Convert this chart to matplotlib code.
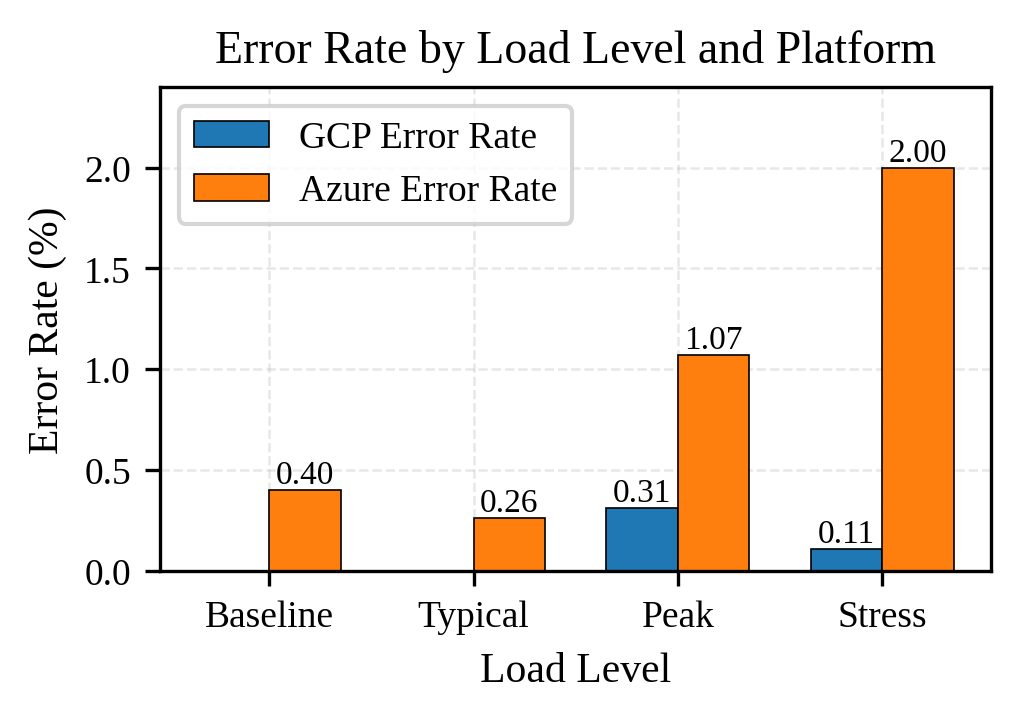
import matplotlib
matplotlib.use("Agg")
import matplotlib.pyplot as plt
import numpy as np

plt.rcParams['font.family'] = ['Liberation Serif', 'DejaVu Serif']

categories = ["Baseline", "Typical", "Peak", "Stress"]
gcp = [0.0, 0.0, 0.31, 0.11]
azure = [0.40, 0.26, 1.07, 2.00]

fig, ax = plt.subplots(figsize=(3.4, 2.403), dpi=300)
x = np.arange(len(categories))
w = 0.35
b1 = ax.bar(x - w/2, gcp, w, label="GCP Error Rate", color="#1f77b4", edgecolor="black", linewidth=0.4)
b2 = ax.bar(x + w/2, azure, w, label="Azure Error Rate", color="#ff7f0e", edgecolor="black", linewidth=0.4)

for bars, vals in ((b1, gcp), (b2, azure)):
    for rect, v in zip(bars, vals):
        if v > 0:
            ax.text(rect.get_x() + rect.get_width()/2, v, f"{v:.2f}", ha="center", va="bottom", fontsize=8)

ax.set_xticks(x)
ax.set_xticklabels(categories, fontsize=9)
ax.tick_params(axis='y', labelsize=9)
ax.set_ylim(0, 2.4)
ax.set_yticks([0.0, 0.5, 1.0, 1.5, 2.0])
ax.set_xlabel("Load Level", fontsize=10)
ax.set_ylabel("Error Rate (%)", fontsize=10)
ax.set_title("Error Rate by Load Level and Platform", fontsize=11)
ax.grid(True, linestyle="--", alpha=0.3, linewidth=0.6)
ax.set_axisbelow(True)
ax.legend(loc="upper left", fontsize=9)
fig.subplots_adjust(left=0.157, right=0.972, top=0.878, bottom=0.207)
fig.savefig("out.png", dpi=300)
